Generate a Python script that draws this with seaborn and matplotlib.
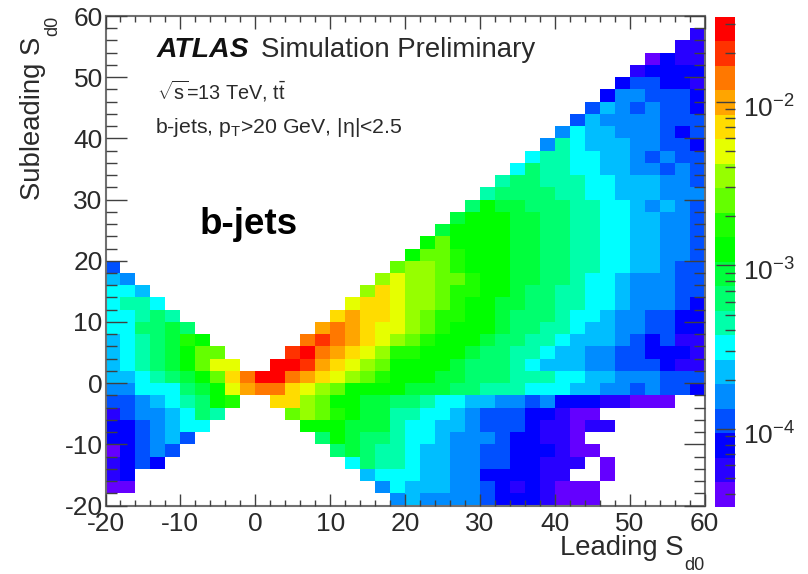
import numpy as np
import pandas as pd
import matplotlib
matplotlib.use("Agg")
import matplotlib.pyplot as plt
import seaborn as sns
from matplotlib.colors import ListedColormap, LogNorm
from matplotlib.ticker import LogLocator, NullFormatter
from matplotlib.transforms import ScaledTranslation

# -----------------------------
# DATA
# -----------------------------
# colour band (0 = lowest, 19 = highest) read off each 2x2 bin, _ = empty bin
_ = -1

X_TICKS = [-20, -10, 0, 10, 20, 30, 40, 50, 60]
Y_TICKS = [-20, -10, 0, 10, 20, 30, 40, 50, 60]
Z_TICKS = [1e-4, 1e-3, 1e-2]
Z_LABELS = [r"$\mathregular{10^{\mathrm{-}4}}$", r"$\mathregular{10^{\mathrm{-}3}}$", r"$\mathregular{10^{\mathrm{-}2}}$"]

LOG_Z_MIN = -4.475
LOG_Z_MAX = -1.48

BAND_COLORS = [
    "#6400ff", "#2800ff", "#0000ff", "#0050ff", "#008cff",
    "#00beff", "#00ffff", "#00ffaa", "#00ff6e", "#00ff3c",
    "#00ff00", "#1eff00", "#64ff00", "#96ff00", "#e6ff00",
    "#ffdc00", "#ffa500", "#ff7800", "#ff3200", "#ff0000",
]

# rows are listed from the top of the plot (y = 58..60) to the bottom (y = -20..-18)
ROW_58 = [_] * 40
ROW_56 = [_] * 39 + [1]
ROW_54 = [_] * 38 + [1, 1]
ROW_52 = [_] * 36 + [0, 2, 1, 1]
ROW_50 = [_] * 35 + [1, 2, 2, 2, 2]
ROW_48 = [_] * 34 + [2, 3, 3, 2, 2, 1]
ROW_46 = [_] * 33 + [2, 4, 4, 3, 3, 3, 2]
ROW_44 = [_] * 32 + [3, 5, 4, 3, 4, 3, 3, 2]
ROW_42 = [_] * 31 + [3, 5, 4, 4, 4, 4, 3, 3, 3]
ROW_40 = [_] * 30 + [4, 6, 5, 5, 4, 4, 4, 3, 2, 3]
ROW_38 = [_] * 29 + [4, 7, 6, 5, 5, 5, 4, 4, 3, 3, 2]
ROW_36 = [_] * 28 + [6, 7, 7, 6, 6, 5, 5, 4, 3, 4, 3, 3]
ROW_34 = [_] * 27 + [6, 8, 7, 7, 6, 6, 5, 5, 4, 4, 3, 4, 3]
ROW_32 = [_] * 26 + [7, 8, 8, 7, 7, 7, 6, 6, 5, 5, 5, 4, 4, 3]
ROW_30 = [_] * 25 + [7, 8, 8, 8, 8, 7, 7, 6, 6, 5, 5, 5, 4, 4, 4]
ROW_28 = [_] * 24 + [8, 10, 9, 9, 8, 8, 8, 7, 7, 6, 6, 5, 4, 5, 4, 3]
ROW_26 = [_] * 23 + [9, 10, 10, 10, 9, 9, 8, 8, 7, 7, 6, 6, 5, 5, 4, 4, 3]
ROW_24 = [_] * 22 + [9, 10, 10, 10, 10, 9, 9, 8, 8, 7, 7, 6, 6, 5, 5, 4, 4, 3]
ROW_22 = [_] * 21 + [10, 12, 10, 10, 10, 10, 9, 9, 8, 8, 7, 7, 6, 6, 5, 5, 4, 4, 3]
ROW_20 = [_] * 20 + [10, 12, 12, 11, 10, 10, 10, 9, 9, 8, 8, 7, 7, 6, 6, 5, 5, 4, 4, 3]
ROW_18 = [3] + [_] * 18 + [12, 13, 13, 12, 11, 10, 10, 10, 9, 9, 8, 8, 7, 7, 6, 6, 5, 5, 4, 3, 3]
ROW_16 = [5, 4] + [_] * 16 + [13, 14, 13, 13, 12, 12, 11, 10, 10, 9, 9, 8, 8, 7, 6, 6, 5, 4, 4, 4, 3, 3]
ROW_14 = [6, 6, 5] + [_] * 14 + [13, 15, 14, 13, 13, 12, 11, 11, 10, 10, 9, 8, 8, 7, 7, 6, 6, 5, 4, 4, 4, 3, 3]
ROW_12 = [6, 7, 7, 6] + [_] * 12 + [14, 15, 15, 14, 13, 13, 12, 11, 10, 10, 9, 9, 8, 8, 7, 7, 6, 6, 5, 4, 4, 4, 3, 2]
ROW_10 = [6, 6, 7, 8, 7] + [_] * 10 + [15, 16, 15, 15, 14, 13, 12, 11, 11, 10, 10, 9, 8, 8, 8, 7, 6, 6, 5, 4, 4, 3, 3, 2, 2]
ROW_8 = [6, 6, 8, 8, 9, 8] + [_] * 8 + [16, 17, 16, 15, 14, 14, 13, 12, 11, 10, 10, 10, 9, 8, 8, 7, 7, 6, 5, 5, 4, 4, 3, 3, 2, 2]
ROW_6 = [5, 6, 7, 8, 9, 11, 10] + [_] * 6 + [17, 18, 17, 16, 15, 14, 13, 12, 11, 10, 10, 10, 9, 8, 8, 7, 7, 6, 5, 5, 5, 4, 3, 2, 3, 1, 1]
ROW_4 = [5, 6, 7, 8, 9, 10, 12, 12] + [_] * 4 + [18, 19, 17, 16, 15, 14, 13, 11, 11, 10, 10, 10, 9, 8, 8, 7, 7, 6, 5, 5, 4, 4, 3, 3, 2, 2, 2, 1]
ROW_2 = [5, 6, 7, 8, 9, 10, 12, 14, 14] + [_] * 2 + [19, 19, 18, 16, 15, 14, 13, 12, 10, 10, 10, 10, 9, 8, 8, 8, 7, 6, 5, 5, 5, 4, 4, 3, 3, 3, 2, 1, 1]
ROW_0 = [5, 5, 6, 7, 8, 9, 10, 12, 15, 17, 19, 19, 17, 16, 15, 14, 13, 12, 11, 10, 10, 10, 9, 9, 8, 8, 8, 7, 7, 7, 6, 6, 5, 5, 4, 4, 4, 3, 3, 3]
ROW_M2 = [4, 4, 6, 6, 6, 8, 9, 10, 14, 16, 17, 17, 15, 14, 13, 12, 10, 10, 10, 10, 9, 9, 9, 8, 8, 7, 7, 7, 6, 6, 6, 5, 5, 4, 4, 3, 4, 3, 3, 2]
ROW_M4 = [3, 3, 4, 5, 6, 7, 8, 10, 11, _, _, 15, 15, 13, 12, 10, 10, 9, 9, 8, 8, 7, 6, 6, 5, 5, 4, 4, 3, 4, 2, 2, 2, 1, 1, 0, 0, 0, _, _]
ROW_M6 = [1, 3, 4, 4, 5, 6, 8, 7] + [_] * 4 + [12, 13, 12, 11, 10, 9, 9, 7, 7, 6, 6, 5, 4, 3, 3, 3, 2, 2, 1, 0, 0] + [_] * 7
ROW_M8 = [2, 2, 3, 4, 5, 6, 6] + [_] * 6 + [10, 10, 10, 9, 9, 9, 7, 6, 6, 5, 5, 4, 3, 3, 3, 2, 1, 1, 0, 1, 1] + [_] * 6
ROW_M10 = [2, 2, 3, 4, 5, 3] + [_] * 8 + [8, 10, 9, 8, 8, 7, 6, 6, 5, 4, 4, 4, 3, 2, 2, 1, 1, 0] + [_] * 8
ROW_M12 = [0, 2, 3, 4, 3] + [_] * 10 + [8, 9, 8, 7, 7, 6, 5, 5, 4, 4, 3, 3, 2, 2, 2, 1, 0, 0] + [_] * 7
ROW_M14 = [1, 2, 3, 2] + [_] * 12 + [6, 8, 7, 7, 6, 5, 5, 4, 4, 3, 3, 2, 2, 1, 1, 1, _, 0] + [_] * 6
ROW_M16 = [1, 2] + [_] * 15 + [5, 6, 6, 6, 5, 5, 4, 4, 2, 2, 2, 2, 1, 1, _, _, 0] + [_] * 6
ROW_M18 = [0, 0] + [_] * 16 + [4, 6, 5, 5, 5, 4, 4, 3, 2, 1, 2, 1, 0, 0, 0] + [_] * 7
ROW_M20 = [_] * 19 + [4, 5, 4, 4, 4, 4, 3, 2, 2, 2, 1, 0, 0, 0] + [_] * 7

BAND_ROWS = [
    ROW_58, ROW_56, ROW_54, ROW_52, ROW_50, ROW_48, ROW_46, ROW_44, ROW_42, ROW_40,
    ROW_38, ROW_36, ROW_34, ROW_32, ROW_30, ROW_28, ROW_26, ROW_24, ROW_22, ROW_20,
    ROW_18, ROW_16, ROW_14, ROW_12, ROW_10, ROW_8, ROW_6, ROW_4, ROW_2, ROW_0,
    ROW_M2, ROW_M4, ROW_M6, ROW_M8, ROW_M10, ROW_M12, ROW_M14, ROW_M16, ROW_M18, ROW_M20,
]

# -----------------------------
# STYLE
# -----------------------------
sns.set_theme(style="white")

plt.rcParams.update({
    "font.family": ["Liberation Sans", "DejaVu Sans"],
    "mathtext.fontset": "custom",
    "mathtext.rm": "Liberation Sans",
    "mathtext.it": "Liberation Sans:italic",
    "mathtext.bf": "Liberation Sans:bold",
    "axes.axisbelow": False,
})

TEXT_COLOR = "#2a2a2a"
FRAME_COLOR = "#707070"
TICK_COLOR = "#404040"

# -----------------------------
# BUILD TABLE
# -----------------------------
bands = np.array(BAND_ROWS, dtype=float)
bands[bands < 0] = np.nan

band_width = (LOG_Z_MAX - LOG_Z_MIN) / len(BAND_COLORS)
values = 10 ** (LOG_Z_MIN + (bands + 0.5) * band_width)

x_bins = np.arange(-20, 60, 2)
y_bins = np.arange(58, -22, -2)
df = pd.DataFrame(values, index=y_bins, columns=x_bins)

# -----------------------------
# PLOT
# -----------------------------
W, H = 808, 574
fig = plt.figure(figsize=(W / 100, H / 100), dpi=100)
ax = fig.add_axes([105.5 / W, 1 - 505.5 / H, 599 / W, 489.5 / H])
cax = fig.add_axes([715 / W, 1 - 506.5 / H, 19.5 / W, 489.5 / H])

sns.heatmap(
    df,
    ax=ax,
    cbar_ax=cax,
    cmap=ListedColormap(BAND_COLORS),
    norm=LogNorm(vmin=10 ** LOG_Z_MIN, vmax=10 ** LOG_Z_MAX),
    xticklabels=False,
    yticklabels=False,
)

# heatmap cells are 2 units wide, so ticks go at half the data value
ax.set_xticks([(v + 20) / 2 for v in X_TICKS])
ax.set_xticks(np.arange(0, 41), minor=True)
ax.set_yticks([(60 - v) / 2 for v in Y_TICKS])
ax.set_yticks(np.arange(0, 41), minor=True)
ax.set_xticklabels([str(v) for v in X_TICKS], fontsize=19, color=TEXT_COLOR, rotation=0)
ax.set_yticklabels([str(v) for v in Y_TICKS], fontsize=19, color=TEXT_COLOR, rotation=0)
ax.set_xlabel("")
ax.set_ylabel("")

ax.tick_params(axis="x", which="major", direction="in", length=9, width=1, color=TICK_COLOR, top=True, bottom=True, pad=5)
ax.tick_params(axis="x", which="minor", direction="in", length=4.5, width=1, color=TICK_COLOR, top=True, bottom=True)
ax.tick_params(axis="y", which="major", direction="in", length=15, width=1, color=TICK_COLOR, left=True, right=True, pad=2)
ax.tick_params(axis="y", which="minor", direction="in", length=8, width=1, color=TICK_COLOR, left=True, right=True)

for spine in ax.spines.values():
    spine.set_visible(True)
    spine.set_color(FRAME_COLOR)
    spine.set_linewidth(1.5)

cbar = ax.collections[0].colorbar
cbar.outline.set_visible(False)
cbar.set_ticks(Z_TICKS, labels=Z_LABELS)
cax.yaxis.set_minor_locator(LogLocator(base=10, subs=range(2, 10), numticks=10))
cax.yaxis.set_minor_formatter(NullFormatter())
cax.tick_params(which="major", direction="in", length=14, width=1, color=TICK_COLOR, right=True, labelsize=19, labelcolor=TEXT_COLOR, pad=6)
cax.tick_params(which="minor", direction="in", length=7, width=1, color=TICK_COLOR, right=True)

# the exponent labels sit a little below their ticks
for label in cax.get_yticklabels():
    label.set_transform(label.get_transform() + ScaledTranslation(0, -3 / 72, fig.dpi_scale_trans))

# -----------------------------
# TEXT
# -----------------------------
fig.text(157 / W, 1 - 57 / H, "ATLAS", fontsize=20.4, fontweight="bold", fontstyle="italic", color="#111111")
fig.text(261 / W, 1 - 57 / H, "Simulation Preliminary", fontsize=19.9, color=TEXT_COLOR)
fig.text(157 / W, 1 - 99 / H, r"$\mathregular{\sqrt{s}}$=13 TeV, t$\mathregular{\bar{t}}$", fontsize=14.3, color=TEXT_COLOR)
fig.text(155 / W, 1 - 133 / H, r"b-jets, p$\mathregular{_T}$>20 GeV, |η|<2.5", fontsize=15.3, color=TEXT_COLOR)
fig.text(200 / W, 1 - 234 / H, "b-jets", fontsize=26.5, fontweight="bold", color="black")

fig.text(560 / W, 1 - 555 / H, "Leading S", fontsize=19.8, color=TEXT_COLOR)
fig.text(684 / W, 1 - 570 / H, "d0", fontsize=13, color=TEXT_COLOR)
fig.text(46 / W, 1 - 200 / H, "Subleading S", fontsize=19.8, color=TEXT_COLOR, rotation=90, va="bottom", ha="right")
fig.text(61 / W, 1 - 36 / H, "d0", fontsize=13, color=TEXT_COLOR, rotation=90, va="bottom", ha="right")

fig.savefig("out.png", dpi=100)
plt.close(fig)
